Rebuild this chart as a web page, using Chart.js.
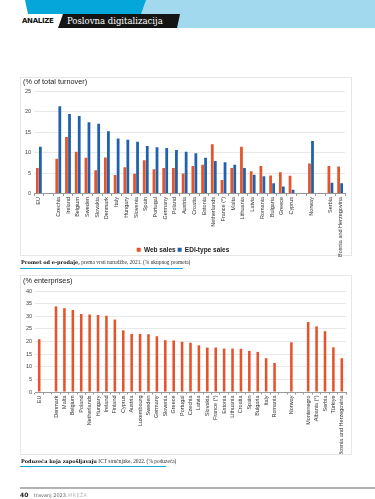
<!DOCTYPE html>
<html>
<head>
<meta charset="utf-8">
<script src="https://cdn.jsdelivr.net/npm/chart.js@4"></script>
<style>
  html, body { margin: 0; padding: 0; background: #fff; }
  body { width: 375px; height: 499px; position: relative; overflow: hidden; font-family: "Liberation Sans", Arial, sans-serif; }
  .abs { position: absolute; }
  canvas { display: block; }
  #hdr-light { left: 0; top: 0; width: 375px; height: 28px; background: #a3d9ee; clip-path: polygon(142px 0, 375px 0, 375px 28px, 137px 28px); }
  #hdr-dark { left: 0; top: 0; width: 160px; height: 14px; background: #05a6d9; clip-path: polygon(25px 0, 146px 0, 141px 14px, 28px 14px); }
  #hdr-tab { left: 0; top: 14px; width: 200px; height: 14px; background: #151515; clip-path: polygon(63px 0, 180px 0, 177px 14px, 58px 14px); }
  #hdr-analize { left: 22px; top: 17px; font: bold 7px "DejaVu Sans", sans-serif; letter-spacing: -0.3px; color: #111; }
  #hdr-title { left: 67px; top: 15.5px; font: 8.5px "DejaVu Serif", serif; color: #fff; }
  .frame { border: 1px solid #e6e6e6; }
  .ttl { font-size: 7.3px; color: #222; }
  .cap { font: 5.4px "Liberation Serif", serif; color: #333; white-space: nowrap; }
  .cap b { color: #111; font-family: "DejaVu Serif", serif; font-size: 5px; }
  .uline { height: 1.6px; background: #18a9d9; }
</style>
</head>
<body>
<div id="hdr-light" class="abs"></div>
<div id="hdr-dark" class="abs"></div>
<div id="hdr-tab" class="abs"></div>
<div id="hdr-analize" class="abs">ANALIZE</div>
<div id="hdr-title" class="abs">Poslovna digitalizacija</div>

<div class="abs frame" style="left:20px;top:77px;width:330px;height:177px;">
  <canvas id="chart-turnover" width="330" height="185"></canvas>
</div>
<div class="abs ttl" style="left:23px;top:77px;">(% of total turnover)</div>
<div class="abs cap" style="left:21px;top:259px;"><b>Promet od e-prodaje,</b> prema vrsti narudžbe, 2021. (% ukupnog prometa)</div>
<div class="abs uline" style="left:20px;top:267.5px;width:163px;"></div>

<div class="abs frame" style="left:20px;top:275px;width:330px;height:178px;">
  <canvas id="chart-ict" width="330" height="178"></canvas>
</div>
<div class="abs ttl" style="left:23px;top:276px;">(% enterprises)</div>
<div class="abs cap" style="left:21px;top:457.5px;"><b>Poduzeća koja zapošljavaju</b> ICT stručnjake, 2022. (% poduzeća)</div>
<div class="abs uline" style="left:20px;top:465.5px;width:146px;"></div>

<div class="abs" style="left:20px;top:487px;width:355px;height:1.5px;background:#b3b3b3;"></div>
<div class="abs" style="left:20px;top:491px;font:bold 6px 'DejaVu Sans',sans-serif;color:#222;">40</div>
<div class="abs" style="left:34px;top:491.5px;font:5px 'DejaVu Sans',sans-serif;color:#666;">travanj 2023.</div>
<div class="abs" style="left:68px;top:491.5px;font:5px 'DejaVu Sans',sans-serif;color:#bbb;letter-spacing:0.3px;">MREŽA</div>

<script>
  /*
    ==================================================
    ====================== DATA ======================
    ==================================================
  */

  // Promet od e-prodaje, 2021.
  const countries2021 = ['EU', '', 'Czechia', 'Ireland', 'Belgium', 'Sweden', 'Slovakia', 'Denmark', 'Italy', 'Hungary',
    'Slovenia', 'Spain', 'Portugal', 'Germany', 'Poland', 'Austria', 'Croatia', 'Estonia', 'Netherlands', 'France (*)',
    'Malta', 'Lithuania', 'Latvia', 'Romania', 'Bulgaria', 'Greece', 'Cyprus', '', 'Norway', '', 'Serbia',
    'Bosnia and Herzegovina'];
  const webSales = [6.2, null, 8.5, 13.8, 10.2, 8.7, 5.7, 8.8, 4.5, 6.4, 4.8, 8.1, 5.9, 6.2, 6.2, 4.9, 6.7, 7.0, 12.0, 3.3,
    6.2, 11.4, 5.4, 6.7, 4.4, 5.2, 4.3, null, 7.3, null, 6.7, 6.6];
  const ediSales = [11.4, null, 21.3, 19.4, 18.9, 17.4, 17.0, 15.2, 13.4, 13.1, 12.6, 11.6, 11.3, 11.1, 10.6, 10.2, 9.8, 8.7,
    7.9, 7.6, 7.0, 6.2, 4.6, 4.2, 2.5, 1.7, 0.9, null, 12.8, null, 2.6, 2.5];
  const turnoverTicks = [0, 5, 10, 15, 20, 25];

  // Poduzeća koja zapošljavaju ICT stručnjake, 2022.
  const countries2022 = ['EU', '', 'Denmark', 'Malta', 'Belgium', 'Poland', 'Netherlands', 'Hungary', 'Ireland', 'Finland',
    'Cyprus', 'Austria', 'Luxembourg', 'Sweden', 'Germany', 'Slovenia', 'Greece', 'Portugal', 'Czechia', 'Latvia',
    'Slovakia', 'France (*)', 'Estonia', 'Lithuania', 'Croatia', 'Spain', 'Bulgaria', 'Italy', 'Romania', '', 'Norway', '',
    'Montenegro', 'Albania (*)', 'Serbia', 'Türkiye', 'Bosnia and Herzegovina'];
  const ictShare = [20.9, null, 33.9, 33.2, 32.5, 30.9, 30.7, 30.5, 30.2, 28.7, 24.4, 23.0, 23.0, 22.9, 22.1, 20.5, 20.4,
    19.9, 19.5, 18.5, 17.6, 17.6, 17.2, 17.2, 17.1, 16.3, 15.9, 13.4, 11.5, null, 19.7, null, 27.7, 26.0, 24.1, 17.7, 13.4];
  const ictTicks = [0, 5, 10, 15, 20, 25, 30, 35, 40];

  /*
    ==================================================
    ===================== CHARTS =====================
    ==================================================
  */

  const ORANGE = '#e4552d';
  const BLUE = '#1f62ab';
  const tickFont = { family: 'Liberation Sans', size: 5.5 };

  let yAxis = (ticks, width) => ({
    min: ticks[0],
    max: ticks[ticks.length - 1],
    afterBuildTicks: (s) => { s.ticks = ticks.map(v => ({ value: v })); },
    afterFit: (s) => { s.width = width; },
    ticks: { font: tickFont, color: '#444', padding: 3 },
    grid: { color: '#e8e8e8', drawTicks: false },
    border: { display: false }
  });

  // long labels (Bosnia and Herzegovina) run past the axis box, like in the print
  let xAxis = (height) => ({
    afterFit: (s) => { s.height = height; s._computeLabelArea = () => undefined; },
    ticks: { font: tickFont, color: '#333', autoSkip: false, minRotation: 90, maxRotation: 90, padding: 1 },
    grid: { drawOnChartArea: false, offset: true, tickLength: 2.5, color: '#999' },
    border: { color: '#999' }
  });

  new Chart(document.getElementById('chart-turnover').getContext('2d'), {
    type: 'bar',
    data: {
      labels: countries2021,
      datasets: [
        { label: 'Web sales', data: webSales, backgroundColor: ORANGE, categoryPercentage: 0.62, barPercentage: 0.92 },
        { label: 'EDI-type sales', data: ediSales, backgroundColor: BLUE, categoryPercentage: 0.62, barPercentage: 0.92 }
      ]
    },
    options: {
      responsive: false,
      animation: false,
      devicePixelRatio: 1,
      layout: { padding: { top: 13, left: 0, right: 6, bottom: 0 } },
      plugins: {
        legend: {
          position: 'bottom',
          labels: {
            font: { family: 'Liberation Sans', size: 6.5, weight: 'bold' },
            color: '#222', boxWidth: 4, boxHeight: 4, padding: 2
          }
        },
        tooltip: { enabled: false }
      },
      scales: { x: xAxis(51), y: yAxis(turnoverTicks, 13) }
    }
  });

  new Chart(document.getElementById('chart-ict').getContext('2d'), {
    type: 'bar',
    data: {
      labels: countries2022,
      datasets: [
        { label: 'ICT', data: ictShare, backgroundColor: ORANGE, categoryPercentage: 0.34, barPercentage: 0.9 }
      ]
    },
    options: {
      responsive: false,
      animation: false,
      devicePixelRatio: 1,
      layout: { padding: { top: 15, left: 0, right: 5, bottom: 0 } },
      plugins: { legend: { display: false }, tooltip: { enabled: false } },
      scales: { x: xAxis(62), y: yAxis(ictTicks, 14) }
    }
  });
</script>
</body>
</html>
